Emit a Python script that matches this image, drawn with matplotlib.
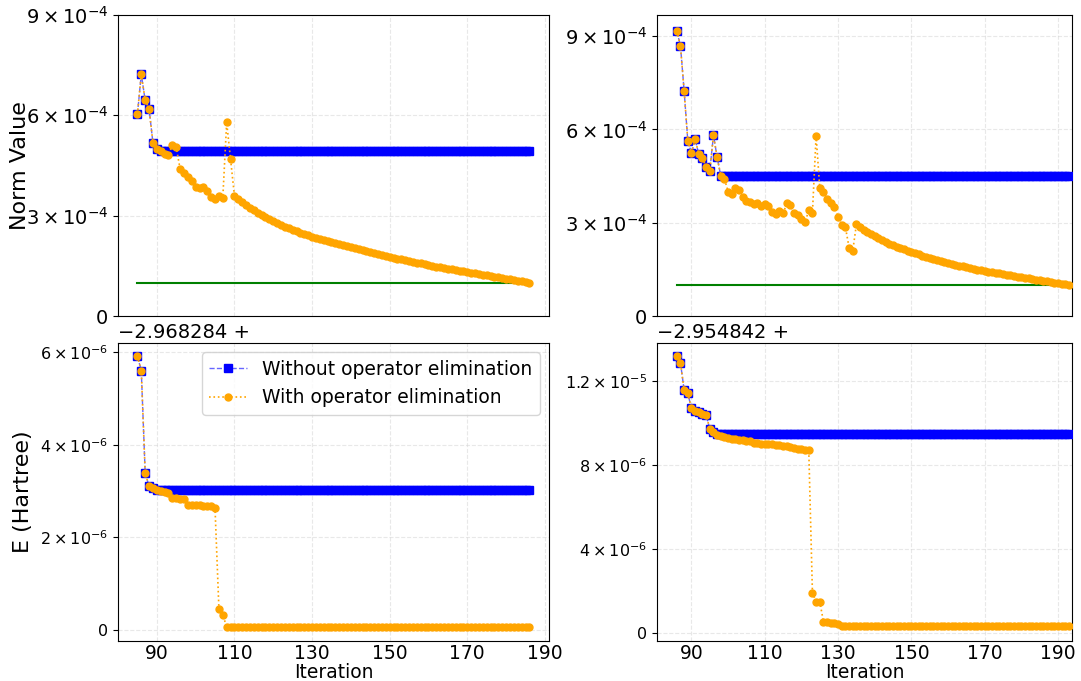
import numpy as np
import matplotlib.pyplot as plt
from matplotlib.ticker import FixedLocator, FixedFormatter

# iterations
it_left = np.arange(85, 187)
it_right = np.arange(86, 194)

# norm values (x 1e-4), left run
norm_with_l = [6.03, 7.23, 6.45, 6.20, 5.18, 4.98, 4.92, 4.85, 4.80, 5.12,
               5.04, 4.40, 4.28, 4.15, 4.03, 3.87, 3.82, 3.85, 3.75, 3.57,
               3.50, 3.60, 3.53, 5.79, 4.69, 3.59, 3.50, 3.41, 3.32, 3.24,
               3.16, 3.08, 3.01, 2.95, 2.89, 2.83, 2.77, 2.72, 2.67, 2.62,
               2.58, 2.53, 2.49, 2.45, 2.41, 2.37, 2.34, 2.30, 2.27, 2.24,
               2.20, 2.17, 2.14, 2.11, 2.08, 2.05, 2.02, 1.99, 1.96, 1.93,
               1.90, 1.87, 1.84, 1.82, 1.79, 1.76, 1.74, 1.71, 1.69, 1.66,
               1.64, 1.61, 1.59, 1.57, 1.55, 1.52, 1.50, 1.48, 1.46, 1.44,
               1.42, 1.40, 1.38, 1.36, 1.34, 1.32, 1.30, 1.28, 1.26, 1.24,
               1.22, 1.20, 1.18, 1.16, 1.14, 1.12, 1.10, 1.08, 1.06, 1.04,
               1.02, 1.00]
norm_without_l = [6.03, 7.23, 6.45, 6.20, 5.18, 4.98] + [4.92] * 96

# norm values (x 1e-4), right run
norm_with_r = [9.17, 8.69, 7.24, 5.64, 5.23, 5.69, 5.20, 5.08, 4.79, 4.67,
               5.81, 5.11, 4.51, 4.41, 4.00, 3.92, 4.13, 4.05, 3.83, 3.71,
               3.68, 3.59, 3.65, 3.55, 3.60, 3.54, 3.35, 3.27, 3.38, 3.30,
               3.62, 3.56, 3.32, 3.25, 3.11, 3.01, 3.41, 3.32, 5.80, 4.11,
               4.00, 3.76, 3.62, 3.49, 3.19, 2.93, 2.85, 2.20, 2.10, 2.95,
               2.86, 2.78, 2.71, 2.64, 2.57, 2.51, 2.45, 2.39, 2.33, 2.28,
               2.23, 2.18, 2.14, 2.10, 2.06, 2.02, 1.98, 1.94, 1.91, 1.87,
               1.84, 1.80, 1.77, 1.74, 1.71, 1.68, 1.65, 1.62, 1.60, 1.57,
               1.54, 1.52, 1.49, 1.47, 1.45, 1.43, 1.41, 1.39, 1.37, 1.35,
               1.33, 1.31, 1.29, 1.27, 1.25, 1.23, 1.21, 1.19, 1.17, 1.15,
               1.13, 1.11, 1.09, 1.07, 1.06, 1.04, 1.02, 1.00]
norm_without_r = [9.17, 8.69, 7.24, 5.64, 5.23, 5.69, 5.20, 5.08, 4.79, 4.67,
                  5.81, 5.11] + [4.50] * 96

threshold = 1.0  # x 1e-4

# energies relative to offset (x 1e-6 Hartree)
e_offset_l = "\u22122.968284 +"
e_offset_r = "\u22122.954842 +"
e_with_l = [5.92, 5.60, 3.40, 3.10, 3.06, 3.03, 3.00, 2.98, 2.96, 2.86,
            2.84, 2.83, 2.82, 2.70, 2.69, 2.69, 2.69, 2.68, 2.68, 2.67,
            2.63, 0.46, 0.32] + [0.07] * 79
e_without_l = [5.92, 5.60, 3.40, 3.10, 3.06, 3.03] + [3.02] * 96

e_with_r = [13.19, 12.86, 11.56, 11.40, 10.68, 10.57, 10.49, 10.41, 10.38, 9.70,
            9.54, 9.43, 9.38, 9.33, 9.29, 9.24, 9.21, 9.19, 9.16, 9.14,
            9.13, 9.03, 9.02, 9.00, 8.98, 8.98, 8.97, 8.95, 8.92, 8.90,
            8.87, 8.83, 8.79, 8.76, 8.73, 8.70, 8.68, 1.89, 1.48, 1.48,
            0.52, 0.50, 0.48, 0.45, 0.43] + [0.30] * 63
e_without_r = [13.19, 12.86, 11.56, 11.40, 10.68, 10.57, 10.49, 10.41, 10.38, 9.70,
               9.54] + [9.47] * 97

norm_ticks = [0, 3, 6, 9]
norm_labels = ['$0$', r'$3\times10^{-4}$', r'$6\times10^{-4}$', r'$9\times10^{-4}$']
el_ticks = [0, 2, 4, 6]
el_labels = ['$0$', r'$2\times10^{-6}$', r'$4\times10^{-6}$', r'$6\times10^{-6}$']
er_ticks = [0, 4, 8, 12]
er_labels = ['$0$', r'$4\times10^{-6}$', r'$8\times10^{-6}$', r'$1.2\times10^{-5}$']
xticks = [90, 110, 130, 150, 170, 190]

fig = plt.figure(figsize=(10.81, 6.81), dpi=100)
W, H = 1081, 681
ax_tl = fig.add_axes([118 / W, 1 - 316 / H, 431 / W, 301 / H])
ax_bl = fig.add_axes([118 / W, 1 - 641 / H, 431 / W, 298 / H])
ax_tr = fig.add_axes([657 / W, 1 - 316 / H, 415 / W, 301 / H])
ax_br = fig.add_axes([657 / W, 1 - 641 / H, 415 / W, 298 / H])


def draw(ax, x, without, with_):
    ax.plot(x, without, color=(0, 0, 1, 0.6), ls='--', lw=1, marker='s', ms=6,
            mfc='blue', mec='blue', label='Without operator elimination', zorder=3)
    ax.plot(x, with_, color='orange', ls=':', lw=1.2, marker='o', ms=5,
            label='With operator elimination', zorder=4)
    ax.grid(True, ls='--', color='lightgray', alpha=0.5, lw=0.8)
    ax.set_xticks(xticks)
    ax.tick_params(labelsize=14)
    ax.tick_params(axis='x', length=0, pad=2.5, labelsize=13.5)


draw(ax_tl, it_left, norm_without_l, norm_with_l)
draw(ax_tr, it_right, norm_without_r, norm_with_r)
draw(ax_bl, it_left, e_without_l, e_with_l)
draw(ax_br, it_right, e_without_r, e_with_r)

ax_tl.plot([it_left[0], it_left[-1]], [threshold, threshold], color='green', lw=1.5, zorder=2)
ax_tr.plot([it_right[0], it_right[-1]], [threshold, threshold], color='green', lw=1.5, zorder=2)

for ax in (ax_tl, ax_tr):
    ax.yaxis.set_major_locator(FixedLocator(norm_ticks))
    ax.yaxis.set_major_formatter(FixedFormatter(norm_labels))
    ax.tick_params(labelbottom=False)
ax_tl.set_ylim(0, 9.0)
ax_tr.set_ylim(0, 9.68)

ax_bl.yaxis.set_major_locator(FixedLocator(el_ticks))
ax_bl.yaxis.set_major_formatter(FixedFormatter(el_labels))
ax_bl.set_ylim(-0.24, 6.2)
ax_br.yaxis.set_major_locator(FixedLocator(er_ticks))
ax_br.yaxis.set_major_formatter(FixedFormatter(er_labels))
ax_br.set_ylim(-0.4, 13.8)
for ax in (ax_bl, ax_br):
    ax.tick_params(axis='y', labelsize=11.5)

for ax in (ax_tl, ax_bl):
    ax.set_xlim(80, 191.05)
for ax in (ax_tr, ax_br):
    ax.set_xlim(80.6, 193.8)

ax_bl.text(0, 1.005, e_offset_l, transform=ax_bl.transAxes, fontsize=14, ha='left', va='bottom')
ax_br.text(0, 1.005, e_offset_r, transform=ax_br.transAxes, fontsize=14, ha='left', va='bottom')

ax_tl.set_ylabel('Norm Value', fontsize=16)
ax_bl.set_ylabel('E (Hartree)', fontsize=16)
ax_tl.yaxis.set_label_coords(-0.205, 0.5)
ax_bl.yaxis.set_label_coords(-0.198, 0.5)
ax_bl.set_xlabel('Iteration', fontsize=13.5, labelpad=0)
ax_br.set_xlabel('Iteration', fontsize=13.5, labelpad=0)

ax_bl.legend(loc='upper right', fontsize=13.5)

fig.savefig('out.png', dpi=100)
